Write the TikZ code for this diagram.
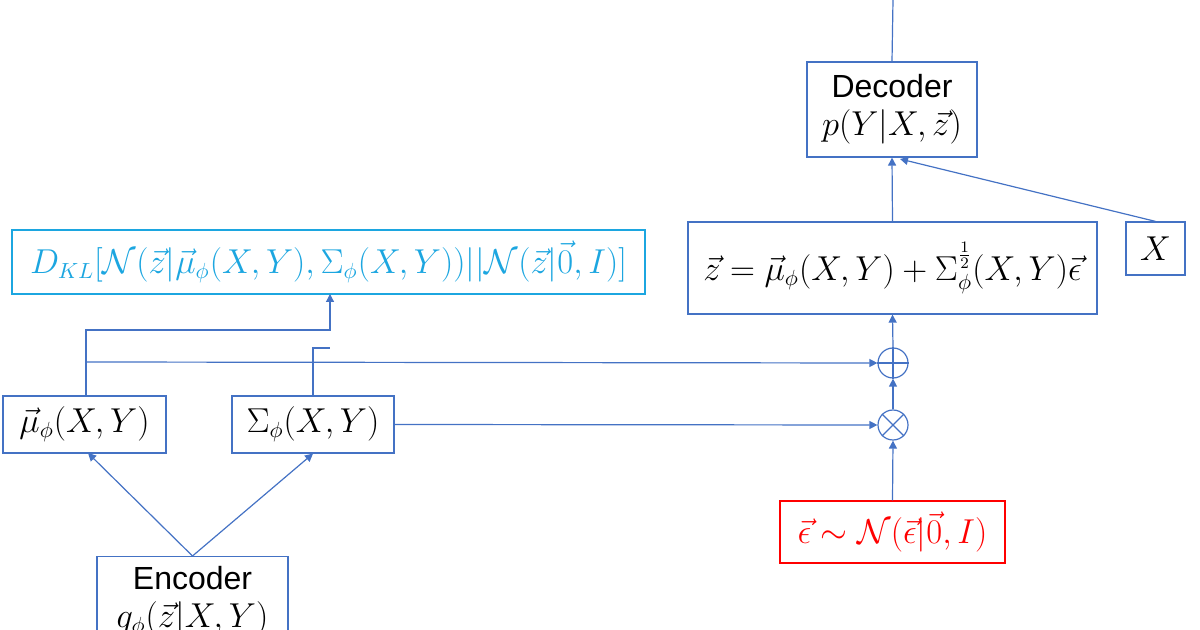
\documentclass[tikz,border=0pt]{standalone}
\usepackage{amsmath}
\usepackage{fontspec}
\setsansfont{Liberation Sans}
\usetikzlibrary{arrows.meta}
\definecolor{lb}{HTML}{4472C4}
\definecolor{cy}{HTML}{1CA6E0}
\definecolor{rd}{HTML}{FF0000}
\begin{document}
\begin{tikzpicture}[x=0.5pt,y=-0.5pt,
 box/.style={draw=lb,line width=0.6pt,inner sep=0pt,align=center,font=\fontsize{16}{19}\selectfont},
 con/.style={draw=lb,line width=0.6pt},
 arr/.style={con,-{Triangle[length=4pt,width=4pt]}},
 circ/.style={draw=lb,line width=0.6pt,circle,minimum size=15pt,inner sep=0pt}]
\useasboundingbox (0,0) rectangle (1200,630);
\clip (0,0) rectangle (1200,630);
\node[box,minimum width=85pt,minimum height=47.5pt] (dec) at (892,109.5) {\sffamily Decoder\\[0pt] $p(Y|X,\vec z)$};
\node[box,minimum width=204.5pt,minimum height=46pt] (z) at (892.5,268) {$\vec z=\vec\mu_\phi(X,Y)+\Sigma_\phi^{\frac12}(X,Y)\vec\epsilon$};
\node[box,minimum width=29.5pt,minimum height=26.5pt] (X) at (1155.5,248.5) {$X$};
\node[box,draw=cy,text=cy,minimum width=316.5pt,minimum height=32pt] (kl) at (328.5,262) {$D_{KL}[\mathcal N(\vec z|\vec\mu_\phi(X,Y),\Sigma_\phi(X,Y))||\mathcal N(\vec z|\vec 0,I)]$};
\node[box,minimum width=81.5pt,minimum height=28.5pt] (mu) at (84.5,424.5) {$\vec\mu_\phi(X,Y)$};
\node[box,minimum width=81pt,minimum height=28.5pt] (sig) at (313,424.5) {$\Sigma_\phi(X,Y)$};
\node[box,minimum width=95.5pt,minimum height=45pt,anchor=north] (enc) at (192.5,556) {\sffamily Encoder\\[0pt] $q_\phi(\vec z|X,Y)$};
\node[box,draw=rd,text=rd,minimum width=112.5pt,minimum height=31pt] (eps) at (892.5,532) {$\vec\epsilon\sim\mathcal N(\vec\epsilon|\vec 0,I)$};
\node[circ] (op) at (893,363) {};
\draw[lb,line width=0.6pt] (op.north)--(op.south) (op.west)--(op.east);
\node[circ] (ot) at (893,425) {};
\draw[lb,line width=0.6pt] (ot.north west)--(ot.south east) (ot.north east)--(ot.south west);
\coordinate (top) at (893,0);
\draw[con] (top)--(dec.north);
\draw[arr] (enc.north)--(88,453);
\draw[arr] (enc.north)--(sig.south);
\draw[arr] (86,396)--(86,330)--(330,330)--(330,294);
\draw[con] (sig.north)--(313,348)--(330,348);
\draw[arr] (86,362)--(op.west);
\draw[arr] (sig.east)--(ot.west);
\draw[arr] (eps.north)--(ot.south);
\draw[arr] (ot.north)--(op.south);
\draw[arr] (op.north)--(z.south);
\draw[arr] (z.north)--(dec.south);
\draw[arr] (X.north)--(900,159);
\end{tikzpicture}
\end{document}
